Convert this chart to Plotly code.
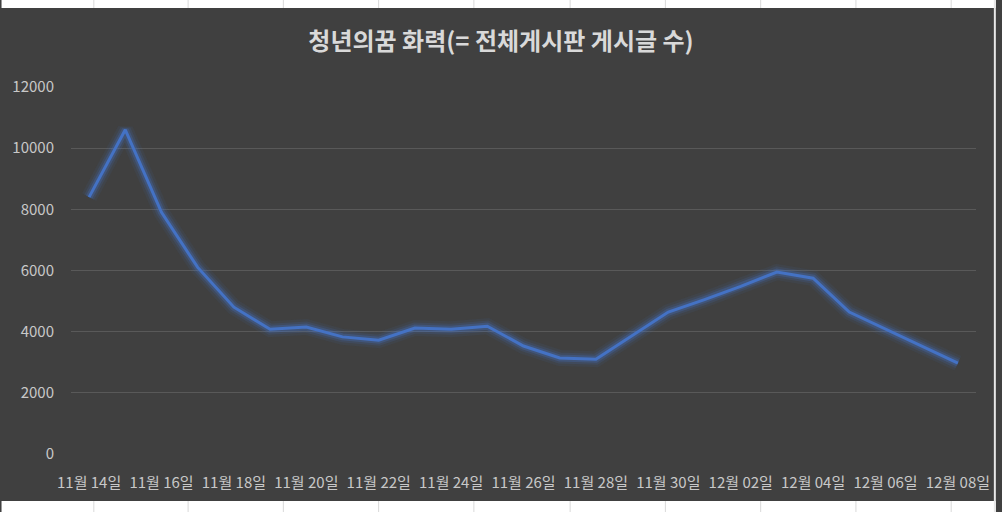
import plotly.graph_objects as go

# daily post counts, 11/14 ~ 12/08
dates = [
    "11월 14일", "11월 15일", "11월 16일", "11월 17일", "11월 18일", "11월 19일",
    "11월 20일", "11월 21일", "11월 22일", "11월 23일", "11월 24일", "11월 25일",
    "11월 26일", "11월 27일", "11월 28일", "11월 29일", "11월 30일", "12월 01일",
    "12월 02일", "12월 03일", "12월 04일", "12월 05일", "12월 06일", "12월 07일",
    "12월 08일",
]
posts = [
    8400, 10600, 7900, 6100, 4800, 4080,
    4150, 3830, 3720, 4120, 4080, 4180,
    3530, 3140, 3100, 3870, 4640, 5050,
    5480, 5950, 5750, 4640, 4080, 3530,
    2970,
]
y_ticks = [0, 2000, 4000, 6000, 8000, 10000, 12000]
title = "청년의꿈 화력(= 전체게시판 게시글 수)"

FONT = "Noto Sans CJK KR"
BG = "#404040"
LINE = "#4472C4"

fig = go.Figure()

# soft glow under the line
for w, a in [(16, 0.08), (11, 0.15), (7, 0.28)]:
    fig.add_trace(go.Scatter(
        x=dates, y=posts, mode="lines",
        line=dict(color=f"rgba(68,114,196,{a})", width=w),
        hoverinfo="skip", showlegend=False,
    ))

fig.add_trace(go.Scatter(
    x=dates, y=posts, mode="lines",
    line=dict(color=LINE, width=3),
    showlegend=False,
))

# pixel helpers for the sheet strips around the chart
W, H = 1002, 512
L, R, T, B = 70, 20, 87, 58
pw, ph = W - L - R, H - T - B


def px_x(p):
    return (p - L) / pw


def px_y(p):
    return (H - B - p) / ph


shapes = [
    dict(type="rect", xref="paper", yref="paper", layer="above",
         x0=px_x(0), x1=px_x(W), y0=px_y(0), y1=px_y(8),
         fillcolor="#ffffff", line=dict(width=0)),
    dict(type="rect", xref="paper", yref="paper", layer="above",
         x0=px_x(0), x1=px_x(W), y0=px_y(501), y1=px_y(H),
         fillcolor="#ffffff", line=dict(width=0)),
    dict(type="rect", xref="paper", yref="paper", layer="above",
         x0=px_x(1000), x1=px_x(W), y0=px_y(0), y1=px_y(H),
         fillcolor="#e8e8e8", line=dict(width=0)),
]
for cx in [93, 188, 284, 380, 476, 573, 669, 765, 861, 957]:
    for y0, y1 in [(0, 8), (501, H)]:
        shapes.append(dict(type="line", xref="paper", yref="paper", layer="above",
                           x0=px_x(cx), x1=px_x(cx), y0=px_y(y0), y1=px_y(y1),
                           line=dict(color="#d9d9d9", width=1)))

fig.update_layout(
    width=W, height=H,
    margin=dict(l=L, r=R, t=T, b=B),
    paper_bgcolor=BG, plot_bgcolor=BG,
    font=dict(family=FONT, color="#bfbfbf"),
    title=dict(text=f"<b>{title}</b>", x=0.5, xanchor="center",
               y=1 - 42 / H, yanchor="middle",
               font=dict(family=FONT, size=24, color="#d9d9d9")),
    xaxis=dict(
        type="category", range=[-0.5, len(dates) - 0.5],
        tickvals=dates[::2], ticktext=dates[::2],
        showgrid=False, zeroline=False, showline=False,
        tickfont=dict(size=15, color="#c8c8c8"),
        ticklabelstandoff=18,
    ),
    yaxis=dict(
        range=[0, 12000], tickvals=y_ticks,
        ticktext=[str(v) for v in y_ticks],
        showgrid=True, gridcolor="#595959", gridwidth=1,
        zeroline=False, showline=False,
        tickfont=dict(size=15, color="#c8c8c8"),
        ticklabelstandoff=16,
    ),
    shapes=shapes,
)

fig.write_html("out.html", config={"displayModeBar": False},
               post_script="document.body.style.margin='0';")
